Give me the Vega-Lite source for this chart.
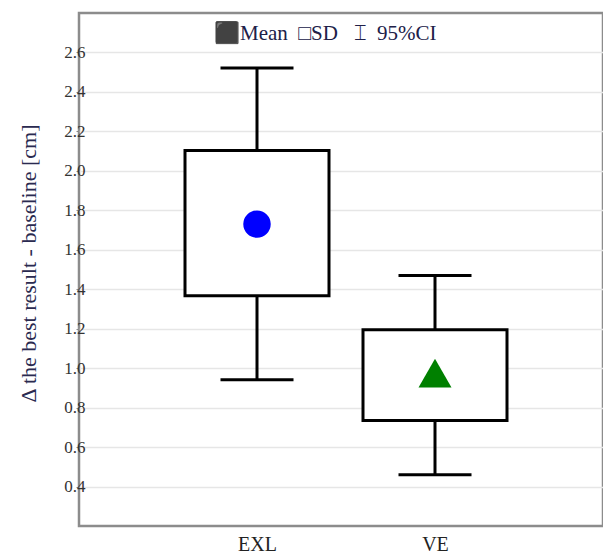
{
  "$schema": "https://vega.github.io/schema/vega-lite/v6.json",
  "width": 524,
  "height": 513,
  "autosize": {"type": "none"},
  "padding": {"left": 79, "top": 13, "right": 0, "bottom": 27},
  "background": "white",
  "config": {
    "view": {"stroke": "#8c8c8c", "strokeWidth": 2.5},
    "font": "Liberation Serif"
  },
  "title": {
    "text": "⬛Mean\u00a0\u00a0□SD\u00a0\u00a0\u00a0⌶\u00a0\u00a095%CI",
    "anchor": "start",
    "frame": "group",
    "dx": 135,
    "dy": 20,
    "offset": -28,
    "baseline": "alphabetic",
    "font": "Liberation Serif",
    "fontSize": 21,
    "fontWeight": "normal",
    "color": "#202048"
  },
  "data": {
    "values": [
      {"group": "EXL", "mean": 1.73, "sd_lo": 1.367, "sd_hi": 2.103, "ci_lo": 0.941, "ci_hi": 2.521},
      {"group": "VE", "mean": 0.975, "sd_lo": 0.735, "sd_hi": 1.195, "ci_lo": 0.46, "ci_hi": 1.47}
    ]
  },
  "encoding": {
    "x": {
      "field": "group",
      "type": "nominal",
      "scale": {"type": "point", "domain": ["EXL", "VE"], "range": [0, 534], "padding": 1.026},
      "axis": {
        "title": null,
        "domain": false,
        "ticks": false,
        "grid": false,
        "labelAngle": 0,
        "labelPadding": 8,
        "labelFont": "Liberation Serif",
        "labelFontSize": 20,
        "labelColor": "#222222"
      }
    }
  },
  "layer": [
    {
      "mark": {"type": "rule", "color": "black", "strokeWidth": 3},
      "encoding": {
        "y": {
          "field": "ci_lo",
          "type": "quantitative",
          "scale": {"domain": [0.2, 2.8], "nice": false, "zero": false},
          "axis": {
            "title": "Δ the best result - baseline [cm]",
            "values": [0.4, 0.6, 0.8, 1.0, 1.2, 1.4, 1.6, 1.8, 2.0, 2.2, 2.4, 2.6],
            "format": ".1f",
            "domain": false,
            "grid": true,
            "gridColor": "#e6e6e6",
            "gridWidth": 1.5,
            "ticks": true,
            "tickSize": 3,
            "tickColor": "#888888",
            "labelPadding": -9,
            "labelFont": "Liberation Serif",
            "labelFontSize": 17,
            "labelColor": "#333333",
            "titleFont": "Liberation Serif",
            "titleFontSize": 22,
            "titleFontWeight": "normal",
            "titleColor": "#2a2a50",
            "titleAngle": -90,
            "titleAlign": "center",
            "titleBaseline": "alphabetic",
            "titleX": -44,
            "titleY": 250
          }
        },
        "y2": {"field": "ci_hi"}
      }
    },
    {
      "mark": {"type": "bar", "fill": "white", "stroke": "black", "strokeWidth": 3, "size": 144},
      "encoding": {
        "y": {"field": "sd_lo", "type": "quantitative"},
        "y2": {"field": "sd_hi"}
      }
    },
    {
      "mark": {"type": "tick", "color": "black", "size": 73, "thickness": 3, "opacity": 1},
      "encoding": {
        "y": {"field": "ci_hi", "type": "quantitative"}
      }
    },
    {
      "mark": {"type": "tick", "color": "black", "size": 73, "thickness": 3, "opacity": 1},
      "encoding": {
        "y": {"field": "ci_lo", "type": "quantitative"}
      }
    },
    {
      "transform": [{"filter": "datum.group === 'EXL'"}],
      "mark": {"type": "point", "shape": "circle", "filled": true, "size": 755, "color": "#0000ff", "opacity": 1},
      "encoding": {
        "y": {"field": "mean", "type": "quantitative"}
      }
    },
    {
      "transform": [{"filter": "datum.group === 'VE'"}],
      "mark": {"type": "point", "shape": "triangle-up", "filled": true, "size": 1089, "color": "#008000", "opacity": 1},
      "encoding": {
        "y": {"field": "mean", "type": "quantitative"}
      }
    }
  ]
}
